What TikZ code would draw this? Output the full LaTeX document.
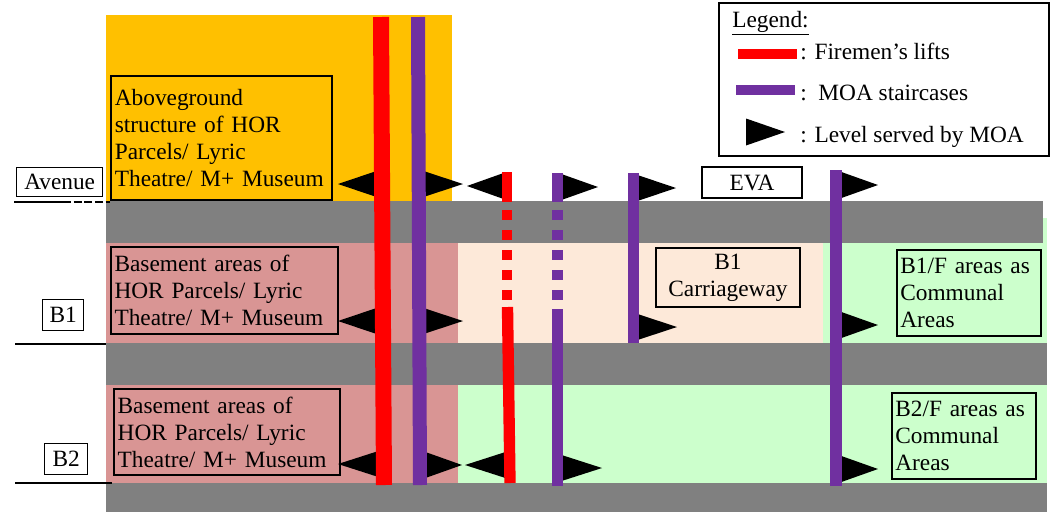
\documentclass[tikz,border=0pt]{standalone}
\usepackage{fontspec}
\setmainfont{Liberation Serif}
\newfontfamily\planfont{Liberation Serif}
\definecolor{aboveor}{HTML}{FFC000}
\definecolor{slabgray}{HTML}{808080}
\definecolor{horpink}{HTML}{D99594}
\definecolor{cwpeach}{HTML}{FDE9D9}
\definecolor{commgreen}{HTML}{CCFFCC}
\definecolor{liftred}{HTML}{FF0000}
\definecolor{moapurple}{HTML}{7030A0}
% black triangle marking a level served: base x, tip x, centre y
\newcommand{\lvltri}[3]{\fill[black] (#1,#3-13.5) -- (#2,#3) -- (#1,#3+13.5) -- cycle;}
\begin{document}
\begin{tikzpicture}[x=0.75pt,y=-0.75pt,
  txt/.style={font=\planfont\fontsize{17.5pt}{20.25pt}\selectfont},
  infobox/.style={draw, line width=1.5pt, txt, inner sep=2.25pt, anchor=north west, align=left},
  lvlbox/.style={draw, line width=1pt, txt, inner sep=0pt, anchor=north west, align=center},
  lift/.style={draw=liftred},
  stair/.style={draw=moapurple},
  gaps/.style={dash pattern=on 7.5pt off 7.5pt}]
\useasboundingbox (0,0) rectangle (1058,512);

% zones
\fill[aboveor] (106,15) rectangle (452,201);
\fill[horpink] (106,243) rectangle (458,483);
\fill[cwpeach] (458,243) rectangle (823,343);
\fill[commgreen] (823,218) rectangle (1047,483);
\fill[commgreen] (458,385) rectangle (823,483);
% slabs
\fill[slabgray] (106,201) rectangle (1043,243);
\fill[slabgray] (106,343) rectangle (1047,385);
\fill[slabgray] (106,483) rectangle (1047,512);

% level markers on the left
\node (ave) [lvlbox, minimum width=64.5pt, minimum height=21.75pt] at (16,167) {Avenue};
\node (bone) [lvlbox, minimum width=30.75pt, minimum height=23.25pt] at (42,299) {B1};
\node (btwo) [lvlbox, minimum width=32.25pt, minimum height=23.25pt] at (44,443) {B2};
\draw[line width=1.5pt] (14,202) -- (63,202);
\draw[line width=1.5pt, dash pattern=on 6pt off 2pt] (63,202) -- (110,202);
\draw[line width=1.5pt] (15,344) -- (106,344);
\draw[line width=1.5pt] (15,483) -- (112,483);

% levels served by MOA
\lvltri{378}{338}{184}
\lvltri{422}{463}{184}
\lvltri{505}{467}{186}
\lvltri{560}{598}{187}
\lvltri{636}{676}{188}
\lvltri{840}{878}{185}
\lvltri{378}{338}{321}
\lvltri{422}{463}{321}
\lvltri{636}{677}{327}
\lvltri{840}{878}{325}
\lvltri{380}{338}{464}
\lvltri{424}{462}{465}
\lvltri{507}{465}{465}
\lvltri{560}{602}{468}
\lvltri{840}{878}{469}

% firemen's lifts
\draw[lift, line width=12pt] (381,17) -- (384,485);
\draw[lift, line width=8pt] (507,172) -- (507,202);
\draw[lift, line width=8pt, gaps] (507,210) -- (507,300);
\draw[lift, line width=8.5pt] (507.5,307) -- (510,483);
% MOA staircases
\draw[stair, line width=10.5pt] (418,17) -- (420,485);
\draw[stair, line width=8.25pt] (557.5,173) -- (557.5,202);
\draw[stair, line width=8.25pt, gaps] (557.5,210) -- (557.5,300);
\draw[stair, line width=8.25pt] (557.5,309) -- (557.5,486);
\draw[stair, line width=8.25pt] (633.5,173) -- (633.5,343);
\draw[stair, line width=9pt] (836,170) -- (836,486);

% area descriptions
\node (abv) [infobox, minimum width=165.75pt, minimum height=93pt, text width=160pt] at (110,75)
  {Aboveground\\structure of HOR\\Parcels/ Lyric\\Theatre/ M+ Museum\par\vspace{8pt}};
\node (bsone) [infobox, minimum width=170.25pt, minimum height=65.25pt, text width=165pt] at (110,246)
  {Basement areas of\\HOR Parcels/ Lyric\\Theatre/ M+ Museum};
\node (bstwo) [infobox, minimum width=169.5pt, minimum height=64.5pt, text width=164pt] at (113,388)
  {Basement areas of\\HOR Parcels/ Lyric\\Theatre/ M+ Museum};
\node (cway) [infobox, align=center, minimum width=108pt, minimum height=44.25pt, text width=103pt] at (655,247)
  {B1\\Carriageway};
\node (eva) [infobox, align=center, minimum width=75pt, minimum height=23.25pt, text width=70pt, inner sep=0pt] at (701,166)
  {EVA};
\node (commone) [infobox, minimum width=108pt, minimum height=64.5pt, text width=103pt] at (896,249)
  {B1/F areas as\\Communal\\Areas};
\node (commtwo) [infobox, minimum width=108pt, minimum height=64.5pt, text width=103pt] at (891,392)
  {B2/F areas as\\Communal\\Areas};

% legend
\node (legend) [draw, line width=1.5pt, anchor=north west, minimum width=247.5pt, minimum height=114.75pt, inner sep=0pt] at (718,2) {};
\node (legtitle) [txt, anchor=base west, inner sep=0pt] at (732,27) {\underline{Legend:}};
\fill[liftred] (738,49) rectangle (797,59);
\node (legred) [txt, anchor=base west, inner sep=0pt] at (800,59) {: Firemen’s lifts};
\fill[moapurple] (736,85) rectangle (795,95);
\node (legpur) [txt, anchor=base west, inner sep=0pt] at (800,100) {:\ \ MOA staircases};
\lvltri{746}{785}{132}
\node (legtri) [txt, anchor=base west, inner sep=0pt] at (800,142) {: Level served by MOA};
\end{tikzpicture}
\end{document}
